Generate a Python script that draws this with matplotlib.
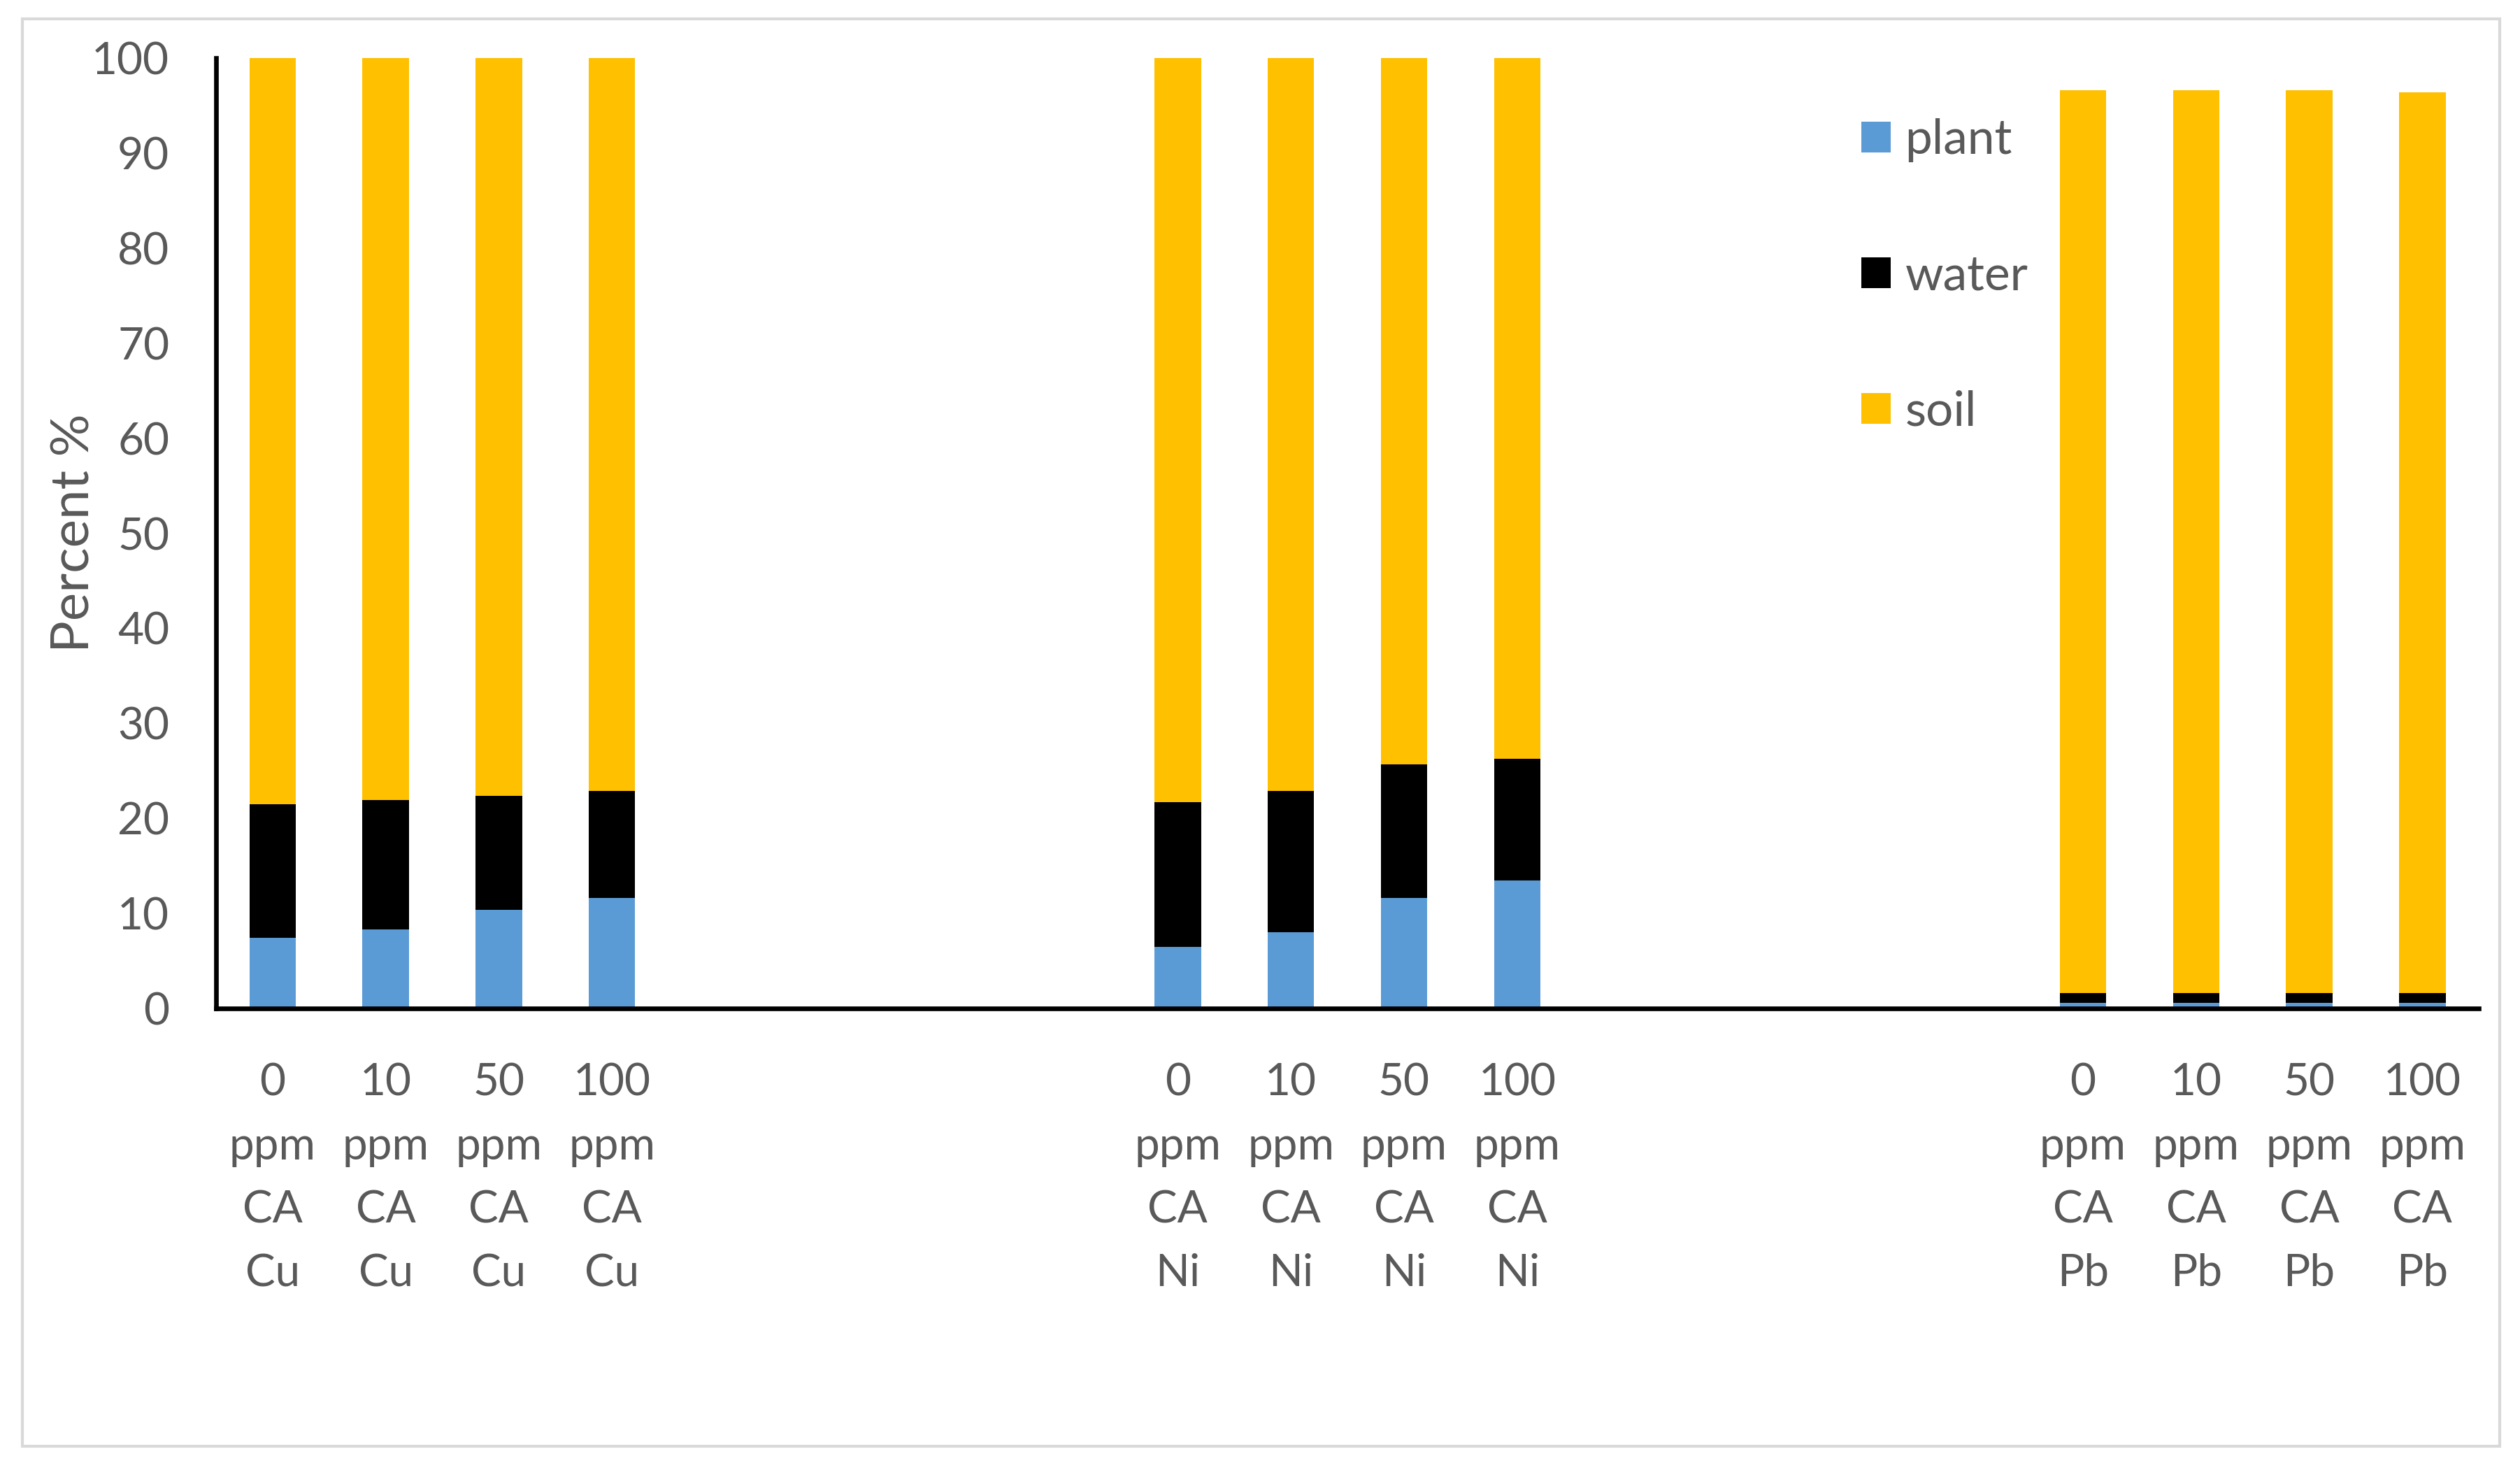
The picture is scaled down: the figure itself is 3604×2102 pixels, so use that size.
"""Stacked percent bars: metal distribution between plant, water and soil."""

import matplotlib
matplotlib.use('Agg')
import matplotlib.pyplot as plt
from matplotlib.patches import Rectangle

doses = ['0', '10', '50', '100']
metals = ['Cu', 'Ni', 'Pb']

# one value per bar, groups in the order of `metals`
plant = [7.4, 8.3, 10.4, 11.6,
         6.5, 8.0, 11.6, 13.5,
         0.6, 0.6, 0.6, 0.6]
water = [14.1, 13.6, 12.0, 11.3,
         15.2, 14.9, 14.1, 12.8,
         1.0, 1.0, 1.0, 1.0]
soil = [78.5, 78.1, 77.6, 77.1,
        78.3, 77.1, 74.3, 73.7,
        95.0, 95.0, 95.0, 94.8]

yticks = list(range(0, 101, 10))

BLUE = '#5B9BD5'
BLACK = '#000000'
GOLD = '#FFC000'
GREY_TXT = '#595959'
GROUP_STEP = 8   # Excel chart had four empty categories between groups


def main():
    plt.rcParams['font.family'] = ['Lato', 'DejaVu Sans']
    fig = plt.figure(figsize=(18.02, 10.51), dpi=200)
    ax = fig.add_axes([0.0857, 0.314, 0.898, 0.6465])

    pos, labels = [], []
    for g, metal in enumerate(metals):
        for i, d in enumerate(doses):
            pos.append(g * GROUP_STEP + i)
            labels.append(f'{d}\nppm\nCA\n{metal}')

    w = 0.41
    bottom2 = [p + q for p, q in zip(plant, water)]
    ax.bar(pos, plant, w, color=BLUE, label='plant')
    ax.bar(pos, water, w, bottom=plant, color=BLACK, label='water')
    ax.bar(pos, soil, w, bottom=bottom2, color=GOLD, label='soil')

    ax.set_xlim(-0.5, 2 * GROUP_STEP + 3.5)
    ax.set_ylim(0, 100)
    ax.set_yticks(yticks)
    ax.set_xticks(pos)
    ax.set_xticklabels(labels, linespacing=1.7)
    ax.tick_params(axis='both', length=0, labelsize=23, labelcolor=GREY_TXT)
    ax.tick_params(axis='x', pad=28)
    ax.tick_params(axis='y', pad=24)
    ax.set_ylabel('Percent %', fontsize=27.5, color=GREY_TXT)
    ax.yaxis.set_label_coords(-0.052, 0.5)

    for s in ['top', 'right']:
        ax.spines[s].set_visible(False)
    for s in ['left', 'bottom']:
        ax.spines[s].set_linewidth(2.4)
        ax.spines[s].set_color('black')

    ax.legend(loc='upper left', bbox_to_anchor=(0.729, 0.936),
              bbox_transform=fig.transFigure, frameon=False, fontsize=25,
              handlelength=0.6, handleheight=0.6, handletextpad=0.3,
              labelspacing=1.89, labelcolor=GREY_TXT, borderpad=0)

    fig.patches.append(Rectangle((0.009, 0.016), 0.983, 0.971,
                                 transform=fig.transFigure, fill=False,
                                 edgecolor='#D9D9D9', lw=1.5))
    fig.savefig('out.png', dpi=200, facecolor='white')
    plt.close(fig)


if __name__ == '__main__':
    main()
